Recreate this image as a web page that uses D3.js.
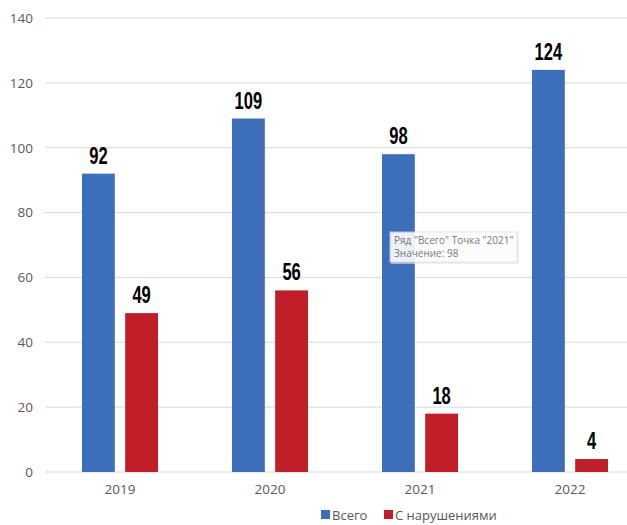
<!DOCTYPE html>
<html><head><meta charset="utf-8">
<script src="https://cdn.jsdelivr.net/npm/d3@7"></script>
<style>body{margin:0;background:#fff;} svg{display:block;}</style>
</head><body>
<svg id="c" width="627" height="525"></svg>
<script>
const categories = ["2019","2020","2021","2022"];
const seriesNames = ["Всего","С нарушениями"];
const total = [92,109,98,124];
const violations = [49,56,18,4];
const yTicks = [0,20,40,60,80,100,120,140];
const colors = ["#3d6eb9","#c01f27"];

const svg = d3.select("#c");
const x = d3.scaleBand().domain(categories).range([45,645]);
const y = d3.scaleLinear().domain([0,140]).range([472,18]);
const inner = d3.scaleBand().domain([0,1]).range([-38,38]).paddingInner(0.24);
const font = "'Open Sans', 'Liberation Sans', sans-serif";

svg.append("g").selectAll("line").data(yTicks).join("line")
  .attr("x1",45).attr("x2",627).attr("y1",d=>y(d)).attr("y2",d=>y(d))
  .attr("stroke","#d9d9d9").attr("stroke-width",1);

const yAxis = d3.axisLeft(y).tickValues(yTicks).tickSize(0).tickPadding(0);
const ga = svg.append("g").attr("transform","translate(33,0)").call(yAxis);
ga.select(".domain").remove();
ga.selectAll("text").attr("fill","#595959").style("font-family",font).style("font-size","13.5px");

const xAxis = d3.axisBottom(x).tickSize(0).tickPadding(0);
const gx = svg.append("g").attr("transform","translate(0,484)").call(xAxis);
gx.select(".domain").remove();
gx.selectAll("text").attr("fill","#595959").style("font-family",font).style("font-size","13.5px");

const series = [total, violations];
series.forEach((vals,si)=>{
  const g = svg.append("g");
  g.selectAll("rect").data(vals).join("rect")
    .attr("x",(d,i)=>x(categories[i])+x.bandwidth()/2+inner(si))
    .attr("width",inner.bandwidth())
    .attr("y",d=>y(d)).attr("height",d=>y(0)-y(d))
    .attr("fill",colors[si]);
  g.selectAll("text").data(vals).join("text")
    .attr("transform",(d,i)=>{
      const cx = x(categories[i])+x.bandwidth()/2+inner(si)+inner.bandwidth()/2;
      return `translate(${cx},${y(d)-10}) scale(0.72,1)`;
    })
    .attr("text-anchor","middle")
    .style("font-family","'Liberation Sans', Arial, sans-serif")
    .style("font-weight","bold").style("font-size","23px").attr("fill","#000")
    .text(d=>d);
});

const tip = svg.append("g").attr("transform","translate(390,232)");
tip.append("rect").attr("x",1).attr("y",1).attr("width",128).attr("height",31).attr("fill","#e6e6e6").attr("opacity",0.6);
tip.append("rect").attr("width",127).attr("height",30).attr("fill","#ffffff").attr("opacity",0.82).attr("stroke","#e0e0e0");
tip.append("text").attr("x",4).attr("y",12).attr("fill","#7a7a7a").style("font-family",font).style("font-size","10px").text('Ряд "Всего" Точка "2021"');
tip.append("text").attr("x",4).attr("y",25).attr("fill","#7a7a7a").style("font-family",font).style("font-size","10px").text("Значение: " + total[2]);

const lg = svg.append("g").attr("transform","translate(0,520)");
const lx = [321,384];
seriesNames.forEach((n,i)=>{
  lg.append("rect").attr("x",lx[i]).attr("y",-10).attr("width",9).attr("height",9).attr("fill",colors[i]);
  lg.append("text").attr("x",lx[i]+11).attr("y",0).attr("fill","#595959")
    .style("font-family",font).style("font-size","13px").text(n);
});
</script>
</body></html>
